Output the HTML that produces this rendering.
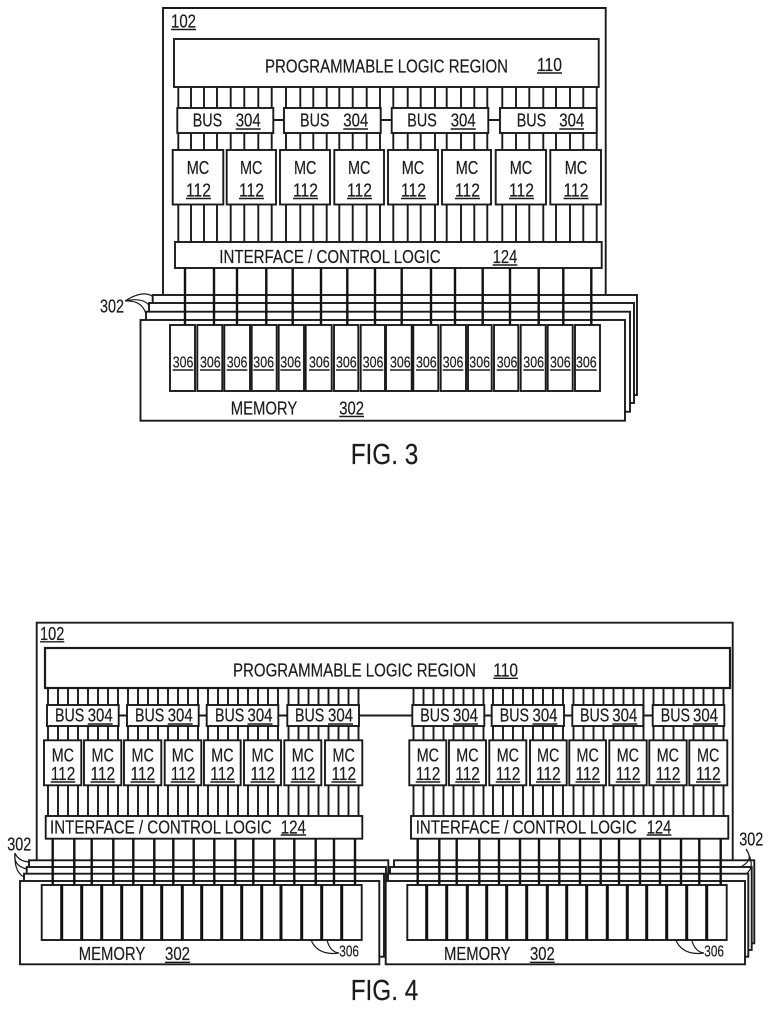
<!DOCTYPE html>
<html><head><meta charset="utf-8"><style>
html,body{margin:0;padding:0;background:#fff}
svg{display:block}
text{font-family:"Liberation Sans",sans-serif;fill:#1c1c1c;stroke:#1c1c1c;stroke-width:.2px}
.b{fill:#fff;stroke:#1a1a1a;stroke-width:1.9}
.l{fill:none;stroke:#1a1a1a;stroke-width:1.9}
.m{fill:none;stroke:#111;stroke-width:2.4}
.t{fill:none;stroke:#1a1a1a;stroke-width:1.2}
.d{fill:none;stroke:#111;stroke-width:3}
.u{fill:none;stroke:#1a1a1a;stroke-width:1.4}
.f18{font-size:18px}.f16{font-size:15.5px}.f28{font-size:29px}
</style></head><body>
<svg width="770" height="1009" viewBox="0 0 770 1009" xmlns="http://www.w3.org/2000/svg">
<!-- FIG 3 -->
<path class="l" d="M163 295V8H605.7V295"/>
<rect class="b" x="174" y="39" width="424.7" height="48"/>
<path class="l" d="M178.3 87V242M191 87V242M204 87V242M217 87V242M230.7 87V242M244.3 87V242M258.3 87V242M271.7 87V242M286 87V242M300.3 87V242M313.3 87V242M326.7 87V242M339.3 87V242M352.7 87V242M366.7 87V242M380 87V242M393.3 87V242M407.7 87V242M420.7 87V242M435 87V242M446.7 87V242M461 87V242M474.3 87V242M487.3 87V242M502.3 87V242M516 87V242M529.3 87V242M543.3 87V242M556 87V242M570 87V242M583.3 87V242M596.7 87V242"/>
<path class="l" d="M273 120H284M380.7 120H392M488 120H500"/>
<rect class="b" x="177.3" y="108" width="96" height="25"/><rect class="b" x="284" y="108" width="96.7" height="25"/><rect class="b" x="391.7" y="108" width="96.6" height="25"/><rect class="b" x="500" y="108" width="96.7" height="25"/>
<rect class="b" x="172.7" y="150" width="50.6" height="54.5"/><rect class="b" x="226.7" y="150" width="49.3" height="54.5"/><rect class="b" x="280" y="150" width="50" height="54.5"/><rect class="b" x="334.3" y="150" width="49.7" height="54.5"/><rect class="b" x="388" y="150" width="50" height="54.5"/><rect class="b" x="442" y="150" width="49" height="54.5"/><rect class="b" x="495.7" y="150" width="50.3" height="54.5"/><rect class="b" x="550.3" y="150" width="50.7" height="54.5"/>
<rect class="b" x="175" y="242" width="426.7" height="26"/>
<rect class="b" x="152.7" y="295" width="484.3" height="100"/>
<rect class="b" x="149" y="303" width="485" height="100"/>
<rect class="b" x="146" y="311.7" width="484" height="100"/>
<rect class="b" x="140.5" y="320" width="484.5" height="100.7"/>
<path class="m" d="M185 268V325M214 268V325M237 268V325M266.3 268V325M292.7 268V325M321 268V325M347.3 268V325M375 268V325M401.7 268V325M431 268V325M455 268V325M482.7 268V325M510 268V325M538.7 268V325M563.3 268V325M591.3 268V325"/>
<rect class="b" x="170" y="325" width="25" height="66"/><rect class="b" x="197.3" y="325" width="25" height="66"/><rect class="b" x="224.3" y="325" width="25.7" height="66"/><rect class="b" x="251.7" y="325" width="25" height="66"/><rect class="b" x="278.7" y="325" width="25.3" height="66"/><rect class="b" x="305.7" y="325" width="26" height="66"/><rect class="b" x="334" y="325" width="24.3" height="66"/><rect class="b" x="360.7" y="325" width="24.3" height="66"/><rect class="b" x="386" y="325" width="25.7" height="66"/><rect class="b" x="413.3" y="325" width="25" height="66"/><rect class="b" x="440.7" y="325" width="25.3" height="66"/><rect class="b" x="468" y="325" width="23.7" height="66"/><rect class="b" x="494" y="325" width="24.3" height="66"/><rect class="b" x="520.7" y="325" width="25" height="66"/><rect class="b" x="547.7" y="325" width="25" height="66"/><rect class="b" x="575" y="325" width="25" height="66"/>
<path class="t" d="M125 301Q142 290 152 296M125 301Q142 297 149 305M125 301Q142 300 146 314"/>
<text class="f18" x="171" y="27.5" textLength="25" lengthAdjust="spacingAndGlyphs">102</text>
<text class="f18" x="265" y="72.5" textLength="243" lengthAdjust="spacingAndGlyphs">PROGRAMMABLE LOGIC REGION</text>
<text class="f18" x="537" y="71" textLength="25" lengthAdjust="spacingAndGlyphs">110</text>
<text class="f18" x="192.7" y="126.5" textLength="29.5" lengthAdjust="spacingAndGlyphs">BUS</text><text class="f18" x="235.7" y="126.5" textLength="25" lengthAdjust="spacingAndGlyphs">304</text>
<text class="f18" x="300" y="126.5" textLength="29.5" lengthAdjust="spacingAndGlyphs">BUS</text><text class="f18" x="343.3" y="126.5" textLength="25" lengthAdjust="spacingAndGlyphs">304</text>
<text class="f18" x="407.3" y="126.5" textLength="29.5" lengthAdjust="spacingAndGlyphs">BUS</text><text class="f18" x="450.7" y="126.5" textLength="25" lengthAdjust="spacingAndGlyphs">304</text>
<text class="f18" x="516.7" y="126.5" textLength="29.5" lengthAdjust="spacingAndGlyphs">BUS</text><text class="f18" x="559.3" y="126.5" textLength="25" lengthAdjust="spacingAndGlyphs">304</text>
<text class="f18" x="186.7" y="174" textLength="22.5" lengthAdjust="spacingAndGlyphs">MC</text><text class="f18" x="186" y="196.5" textLength="25" lengthAdjust="spacingAndGlyphs">112</text>
<text class="f18" x="240" y="174" textLength="22.5" lengthAdjust="spacingAndGlyphs">MC</text><text class="f18" x="239" y="196.5" textLength="25" lengthAdjust="spacingAndGlyphs">112</text>
<text class="f18" x="294" y="174" textLength="22.5" lengthAdjust="spacingAndGlyphs">MC</text><text class="f18" x="293" y="196.5" textLength="25" lengthAdjust="spacingAndGlyphs">112</text>
<text class="f18" x="348" y="174" textLength="22.5" lengthAdjust="spacingAndGlyphs">MC</text><text class="f18" x="347" y="196.5" textLength="25" lengthAdjust="spacingAndGlyphs">112</text>
<text class="f18" x="401.7" y="174" textLength="22.5" lengthAdjust="spacingAndGlyphs">MC</text><text class="f18" x="401" y="196.5" textLength="25" lengthAdjust="spacingAndGlyphs">112</text>
<text class="f18" x="455.7" y="174" textLength="22.5" lengthAdjust="spacingAndGlyphs">MC</text><text class="f18" x="455" y="196.5" textLength="25" lengthAdjust="spacingAndGlyphs">112</text>
<text class="f18" x="509.7" y="174" textLength="22.5" lengthAdjust="spacingAndGlyphs">MC</text><text class="f18" x="509" y="196.5" textLength="25" lengthAdjust="spacingAndGlyphs">112</text>
<text class="f18" x="564.7" y="174" textLength="22.5" lengthAdjust="spacingAndGlyphs">MC</text><text class="f18" x="563.5" y="196.5" textLength="25" lengthAdjust="spacingAndGlyphs">112</text>
<text class="f18" x="219.3" y="263" textLength="221.4" lengthAdjust="spacingAndGlyphs">INTERFACE / CONTROL LOGIC</text>
<text class="f18" x="492.7" y="263" textLength="24.6" lengthAdjust="spacingAndGlyphs">124</text>
<text class="f18" x="230.7" y="414.3" textLength="66.6" lengthAdjust="spacingAndGlyphs">MEMORY</text>
<text class="f18" x="339.3" y="414.3" textLength="24.7" lengthAdjust="spacingAndGlyphs">302</text>
<text class="f18" x="100" y="312.7" textLength="24" lengthAdjust="spacingAndGlyphs">302</text>
<text class="f28" x="350.7" y="464" textLength="67.6" lengthAdjust="spacingAndGlyphs">FIG. 3</text>
<text class="f16" x="172.7" y="367.7" textLength="20.7" lengthAdjust="spacingAndGlyphs">306</text><text class="f16" x="200" y="367.7" textLength="20.7" lengthAdjust="spacingAndGlyphs">306</text><text class="f16" x="226.7" y="367.7" textLength="20.7" lengthAdjust="spacingAndGlyphs">306</text><text class="f16" x="253.3" y="367.7" textLength="20.7" lengthAdjust="spacingAndGlyphs">306</text><text class="f16" x="280.3" y="367.7" textLength="20.7" lengthAdjust="spacingAndGlyphs">306</text><text class="f16" x="309" y="367.7" textLength="20.7" lengthAdjust="spacingAndGlyphs">306</text><text class="f16" x="336" y="367.7" textLength="20.7" lengthAdjust="spacingAndGlyphs">306</text><text class="f16" x="362.7" y="367.7" textLength="20.7" lengthAdjust="spacingAndGlyphs">306</text><text class="f16" x="390" y="367.7" textLength="20.7" lengthAdjust="spacingAndGlyphs">306</text><text class="f16" x="416" y="367.7" textLength="20.7" lengthAdjust="spacingAndGlyphs">306</text><text class="f16" x="442.7" y="367.7" textLength="20.7" lengthAdjust="spacingAndGlyphs">306</text><text class="f16" x="469.3" y="367.7" textLength="20.7" lengthAdjust="spacingAndGlyphs">306</text><text class="f16" x="496.7" y="367.7" textLength="20.7" lengthAdjust="spacingAndGlyphs">306</text><text class="f16" x="523.3" y="367.7" textLength="20.7" lengthAdjust="spacingAndGlyphs">306</text><text class="f16" x="550" y="367.7" textLength="20.7" lengthAdjust="spacingAndGlyphs">306</text><text class="f16" x="576" y="367.7" textLength="20.7" lengthAdjust="spacingAndGlyphs">306</text>
<path class="u" d="M171 29.5H196M537 73H562M235.7 129H260.7M343.3 129H368M450.7 129H475.7M559.3 129H584M186 198.5H211M239 198.5H264M293 198.5H318M347 198.5H372M401 198.5H426M455 198.5H480M509 198.5H534M563.5 198.5H588.5M492.7 265H517.3M339.3 416.5H364M172.7 370H193.4M200 370H220.7M226.7 370H247.4M253.3 370H274M280.3 370H301M309 370H329.7M336 370H356.7M362.7 370H383.4M390 370H410.7M416 370H436.7M442.7 370H463.4M469.3 370H490M496.7 370H517.4M523.3 370H544M550 370H570.7M576 370H596.7"/>

<!-- FIG 4 -->
<path class="l" d="M36.7 860V622.7H732.7V860"/>
<rect class="b" x="45" y="648" width="685" height="40" style="stroke-width:2.2"/>
<path class="l" d="M48 688V816M58 688V816M68 688V816M78 688V816M88 688V816M98 688V816M108 688V816M118 688V816M128 688V816M138 688V816M148 688V816M158 688V816M168 688V816M178 688V816M188 688V816M198 688V816M208 688V816M218 688V816M228 688V816M238 688V816M248 688V816M258 688V816M268 688V816M278 688V816M288.5 688V816M298.5 688V816M308.5 688V816M318.5 688V816M328.5 688V816M338.5 688V816M348.5 688V816M358.5 688V816M413.5 688V816M423.5 688V816M433.5 688V816M443.5 688V816M453.5 688V816M463.5 688V816M473.5 688V816M483.5 688V816M493 688V816M503 688V816M513 688V816M523 688V816M533 688V816M543 688V816M553 688V816M563 688V816M573.5 688V816M583.5 688V816M593.5 688V816M603.5 688V816M613.5 688V816M623.5 688V816M633.5 688V816M643.5 688V816M653.5 688V816M663.5 688V816M673.5 688V816M683.5 688V816M693.5 688V816M703.5 688V816M713.5 688V816M723.5 688V816"/>
<path class="l" d="M118 715.5H127M198 715.5H207M278 715.5H287.5M359 715.5H412.5M484 715.5H492M564 715.5H572.5M643 715.5H652.7"/>
<rect class="b" x="47" y="705" width="71.7" height="21"/><rect class="b" x="127" y="705" width="71.7" height="21"/><rect class="b" x="206.7" y="705" width="71.6" height="21"/><rect class="b" x="287.3" y="705" width="71.7" height="21"/><rect class="b" x="412.3" y="705" width="72" height="21"/><rect class="b" x="491.7" y="705" width="72.3" height="21"/><rect class="b" x="572.3" y="705" width="71" height="21"/><rect class="b" x="652.7" y="705" width="71.6" height="21"/>
<rect class="b" x="44" y="740.3" width="37.3" height="45"/><rect class="b" x="84" y="740.3" width="37.3" height="45"/><rect class="b" x="124" y="740.3" width="37.3" height="45"/><rect class="b" x="164.7" y="740.3" width="36.6" height="45"/><rect class="b" x="204" y="740.3" width="36.7" height="45"/><rect class="b" x="244" y="740.3" width="37" height="45"/><rect class="b" x="284.3" y="740.3" width="37" height="45"/><rect class="b" x="325" y="740.3" width="37.3" height="45"/>
<rect class="b" x="409.3" y="740.3" width="37" height="45"/><rect class="b" x="449" y="740.3" width="37" height="45"/><rect class="b" x="489.3" y="740.3" width="37" height="45"/><rect class="b" x="530" y="740.3" width="36.7" height="45"/><rect class="b" x="569.3" y="740.3" width="36.7" height="45"/><rect class="b" x="609.3" y="740.3" width="37.4" height="45"/><rect class="b" x="649.3" y="740.3" width="37.4" height="45"/><rect class="b" x="689.3" y="740.3" width="38" height="45"/>
<rect class="b" x="45.7" y="816" width="316.6" height="22.7"/><rect class="b" x="411" y="816" width="317.3" height="22.7"/>
<rect class="b" x="29" y="860.3" width="359.3" height="83"/>
<rect class="b" x="26.7" y="867" width="359.3" height="83"/>
<rect class="b" x="24" y="873.7" width="360" height="83"/>
<rect class="b" x="20" y="881" width="359.3" height="83.3"/>
<rect class="b" x="394" y="860.3" width="360.3" height="83"/>
<rect class="b" x="390" y="867" width="361.7" height="83"/>
<rect class="b" x="388" y="873.7" width="360.3" height="83"/>
<rect class="b" x="385.7" y="881" width="359.3" height="83.3"/>
<path class="m" d="M52.7 839V885M74.3 839V885M91.7 839V885M113.3 839V885M133.3 839V885M154.3 839V885M173.3 839V885M193.7 839V885M214.3 839V885M235.3 839V885M253.3 839V885M274.3 839V885M294.3 839V885M315.7 839V885M334 839V885M355 839V885M417.7 839V885M439.3 839V885M456.7 839V885M479.3 839V885M499 839V885M520 839V885M539 839V885M559.3 839V885M580 839V885M600.7 839V885M619 839V885M640 839V885M660 839V885M681 839V885M699.3 839V885M720.7 839V885"/>
<rect class="b" x="41.7" y="885" width="320" height="55"/><rect class="b" x="407.3" y="885" width="319.4" height="55"/>
<path class="d" d="M61.7 885V940M81.7 885V940M101.7 885V940M121.7 885V940M141.7 885V940M161.7 885V940M182.3 885V940M201.7 885V940M221.7 885V940M241.7 885V940M261.7 885V940M281 885V940M301.7 885V940M321.7 885V940M341.7 885V940M426.7 885V940M446.7 885V940M467.3 885V940M486.7 885V940M506.7 885V940M526.7 885V940M547.3 885V940M566.7 885V940M586.7 885V940M607.3 885V940M627.3 885V940M646.7 885V940M666.7 885V940M686.7 885V940M706.7 885V940"/>
<path class="t" d="M339 953Q318 956 311 940M339 953Q330 952 327 940M704 953Q683 956 675.7 940M704 953Q695 952 691.7 940M15 853Q18 861 29 862M15 853Q13 866 27 869M15 853Q14 872 24 877M746 849Q754 860 742 866M746 849Q756 866 747 873"/>
<text class="f18" x="40" y="640" textLength="24.3" lengthAdjust="spacingAndGlyphs">102</text>
<text class="f18" x="233" y="676.7" textLength="243" lengthAdjust="spacingAndGlyphs">PROGRAMMABLE LOGIC REGION</text>
<text class="f18" x="493.3" y="676.5" textLength="24.7" lengthAdjust="spacingAndGlyphs">110</text>
<text class="f18" x="55" y="721.7" textLength="29.3" lengthAdjust="spacingAndGlyphs">BUS</text><text class="f18" x="87.7" y="721.7" textLength="25" lengthAdjust="spacingAndGlyphs">304</text>
<text class="f18" x="135" y="721.7" textLength="29.3" lengthAdjust="spacingAndGlyphs">BUS</text><text class="f18" x="167.7" y="721.7" textLength="25" lengthAdjust="spacingAndGlyphs">304</text>
<text class="f18" x="215" y="721.7" textLength="29.3" lengthAdjust="spacingAndGlyphs">BUS</text><text class="f18" x="247.5" y="721.7" textLength="25" lengthAdjust="spacingAndGlyphs">304</text>
<text class="f18" x="295" y="721.7" textLength="29.3" lengthAdjust="spacingAndGlyphs">BUS</text><text class="f18" x="328" y="721.7" textLength="25" lengthAdjust="spacingAndGlyphs">304</text>
<text class="f18" x="420.3" y="721.7" textLength="29.3" lengthAdjust="spacingAndGlyphs">BUS</text><text class="f18" x="453" y="721.7" textLength="25" lengthAdjust="spacingAndGlyphs">304</text>
<text class="f18" x="499.7" y="721.7" textLength="29.3" lengthAdjust="spacingAndGlyphs">BUS</text><text class="f18" x="532.5" y="721.7" textLength="25" lengthAdjust="spacingAndGlyphs">304</text>
<text class="f18" x="580" y="721.7" textLength="29.3" lengthAdjust="spacingAndGlyphs">BUS</text><text class="f18" x="612.3" y="721.7" textLength="25" lengthAdjust="spacingAndGlyphs">304</text>
<text class="f18" x="660.7" y="721.7" textLength="29.3" lengthAdjust="spacingAndGlyphs">BUS</text><text class="f18" x="693" y="721.7" textLength="25" lengthAdjust="spacingAndGlyphs">304</text>
<text class="f18" x="51.7" y="761.7" textLength="22.3" lengthAdjust="spacingAndGlyphs">MC</text><text class="f18" x="50.7" y="780" textLength="24.6" lengthAdjust="spacingAndGlyphs">112</text>
<text class="f18" x="91.5" y="761.7" textLength="22.3" lengthAdjust="spacingAndGlyphs">MC</text><text class="f18" x="90.5" y="780" textLength="24.6" lengthAdjust="spacingAndGlyphs">112</text>
<text class="f18" x="131.5" y="761.7" textLength="22.3" lengthAdjust="spacingAndGlyphs">MC</text><text class="f18" x="130.5" y="780" textLength="24.6" lengthAdjust="spacingAndGlyphs">112</text>
<text class="f18" x="171.7" y="761.7" textLength="22.3" lengthAdjust="spacingAndGlyphs">MC</text><text class="f18" x="170.7" y="780" textLength="24.6" lengthAdjust="spacingAndGlyphs">112</text>
<text class="f18" x="211.3" y="761.7" textLength="22.3" lengthAdjust="spacingAndGlyphs">MC</text><text class="f18" x="210.3" y="780" textLength="24.6" lengthAdjust="spacingAndGlyphs">112</text>
<text class="f18" x="251.5" y="761.7" textLength="22.3" lengthAdjust="spacingAndGlyphs">MC</text><text class="f18" x="250.5" y="780" textLength="24.6" lengthAdjust="spacingAndGlyphs">112</text>
<text class="f18" x="291.7" y="761.7" textLength="22.3" lengthAdjust="spacingAndGlyphs">MC</text><text class="f18" x="290.7" y="780" textLength="24.6" lengthAdjust="spacingAndGlyphs">112</text>
<text class="f18" x="332.5" y="761.7" textLength="22.3" lengthAdjust="spacingAndGlyphs">MC</text><text class="f18" x="331.5" y="780" textLength="24.6" lengthAdjust="spacingAndGlyphs">112</text>
<text class="f18" x="416.7" y="761.7" textLength="22.3" lengthAdjust="spacingAndGlyphs">MC</text><text class="f18" x="415.7" y="780" textLength="24.6" lengthAdjust="spacingAndGlyphs">112</text>
<text class="f18" x="456.3" y="761.7" textLength="22.3" lengthAdjust="spacingAndGlyphs">MC</text><text class="f18" x="455.3" y="780" textLength="24.6" lengthAdjust="spacingAndGlyphs">112</text>
<text class="f18" x="496.7" y="761.7" textLength="22.3" lengthAdjust="spacingAndGlyphs">MC</text><text class="f18" x="495.7" y="780" textLength="24.6" lengthAdjust="spacingAndGlyphs">112</text>
<text class="f18" x="537" y="761.7" textLength="22.3" lengthAdjust="spacingAndGlyphs">MC</text><text class="f18" x="536" y="780" textLength="24.6" lengthAdjust="spacingAndGlyphs">112</text>
<text class="f18" x="576.5" y="761.7" textLength="22.3" lengthAdjust="spacingAndGlyphs">MC</text><text class="f18" x="575.5" y="780" textLength="24.6" lengthAdjust="spacingAndGlyphs">112</text>
<text class="f18" x="616.7" y="761.7" textLength="22.3" lengthAdjust="spacingAndGlyphs">MC</text><text class="f18" x="615.7" y="780" textLength="24.6" lengthAdjust="spacingAndGlyphs">112</text>
<text class="f18" x="656.7" y="761.7" textLength="22.3" lengthAdjust="spacingAndGlyphs">MC</text><text class="f18" x="655.7" y="780" textLength="24.6" lengthAdjust="spacingAndGlyphs">112</text>
<text class="f18" x="697" y="761.7" textLength="22.3" lengthAdjust="spacingAndGlyphs">MC</text><text class="f18" x="696" y="780" textLength="24.6" lengthAdjust="spacingAndGlyphs">112</text>
<text class="f18" x="50" y="833.3" textLength="221.7" lengthAdjust="spacingAndGlyphs">INTERFACE / CONTROL LOGIC</text>
<text class="f18" x="280.7" y="833.3" textLength="25.3" lengthAdjust="spacingAndGlyphs">124</text>
<text class="f18" x="415.7" y="833.3" textLength="221" lengthAdjust="spacingAndGlyphs">INTERFACE / CONTROL LOGIC</text>
<text class="f18" x="646.7" y="833.3" textLength="24.6" lengthAdjust="spacingAndGlyphs">124</text>
<text class="f18" x="78.7" y="960" textLength="66.6" lengthAdjust="spacingAndGlyphs">MEMORY</text>
<text class="f18" x="165" y="960" textLength="25" lengthAdjust="spacingAndGlyphs">302</text>
<text class="f18" x="444" y="960" textLength="66.6" lengthAdjust="spacingAndGlyphs">MEMORY</text>
<text class="f18" x="530" y="960" textLength="24.7" lengthAdjust="spacingAndGlyphs">302</text>
<text class="f16" x="339.3" y="956.7" textLength="19.7" lengthAdjust="spacingAndGlyphs">306</text>
<text class="f16" x="704.3" y="956.7" textLength="19.7" lengthAdjust="spacingAndGlyphs">306</text>
<text class="f18" x="7.3" y="850.7" textLength="24" lengthAdjust="spacingAndGlyphs">302</text>
<text class="f18" x="739.3" y="845.7" textLength="24" lengthAdjust="spacingAndGlyphs">302</text>
<text class="f28" x="350.7" y="1000" textLength="67.6" lengthAdjust="spacingAndGlyphs">FIG. 4</text>
<path class="u" d="M40 641.8H64.3M493.3 678.3H518M87.7 724H112.7M167.7 724H192.7M247.5 724H272.5M328 724H353M453 724H478M532.5 724H557.5M612.3 724H637.3M693 724H718M50.7 782H75.3M90.5 782H115.1M130.5 782H155.1M170.7 782H195.3M210.3 782H234.9M250.5 782H275.1M290.7 782H315.3M331.5 782H356.1M415.7 782H440.3M455.3 782H479.9M495.7 782H520.3M536 782H560.6M575.5 782H600.1M615.7 782H640.3M655.7 782H680.3M696 782H720.6M280.7 835H306M646.7 835H671.3M165 962.3H190M530 962.3H554.7"/>
</svg>
</body></html>
